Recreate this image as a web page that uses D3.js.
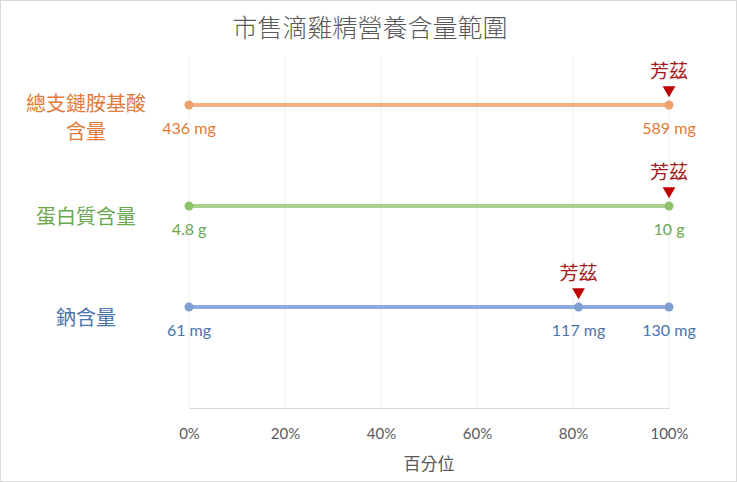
<!DOCTYPE html>
<html>
<head>
<meta charset="utf-8">
<script src="https://cdn.jsdelivr.net/npm/d3@7"></script>
<style>
  html, body { margin: 0; padding: 0; background: #fff; }
  svg { display: block; }
</style>
</head>
<body>
<div id="chart"></div>
<script>
// data
const nutrients = ["總支鏈胺基酸含量", "蛋白質含量", "鈉含量"];
const labelLines = [["總支鏈胺基酸", "含量"], ["蛋白質含量"], ["鈉含量"]];
const minValues = [436, 4.8, 61];
const maxValues = [589, 10, 130];
const brandValues = [589, 10, 117];
const units = ["mg", "g", "mg"];
const brandName = "芳茲";
const percentTicks = [0, 0.2, 0.4, 0.6, 0.8, 1];

const textColors = ["#e07b39", "#6aa84f", "#4a75ad"];
const lineColors = ["#f4b183", "#a9d18e", "#8eaadb"];
const dotColors = ["#f0a06a", "#8fc16c", "#7f9fd3"];

const W = 737, H = 482;
const margin = { top: 56, right: 68, bottom: 74, left: 189 };
const w = W - margin.left - margin.right;
const h = H - margin.top - margin.bottom;

const svg = d3.select("#chart").append("svg")
  .attr("width", W).attr("height", H);

svg.append("rect")
  .attr("x", 0.5).attr("y", 0.5)
  .attr("width", W - 1).attr("height", H - 1)
  .attr("fill", "#fff").attr("stroke", "#d9d9d9");

const g = svg.append("g").attr("transform", `translate(${margin.left},${margin.top})`);

const x = d3.scaleLinear().domain([0, 1]).range([0, w]);
const y = d3.scalePoint().domain(nutrients).range([49, 251]);

const cjk = "'Noto Sans CJK TC', 'Noto Sans CJK SC', sans-serif";
const latin = "Lato, 'Noto Sans', sans-serif";

// title
svg.append("text")
  .attr("x", 370).attr("y", 37)
  .attr("text-anchor", "middle")
  .attr("font-family", cjk)
  .attr("font-size", 25)
  .attr("font-weight", 300)
  .attr("fill", "#595959")
  .text("市售滴雞精營養含量範圍");

// grid
g.append("g")
  .selectAll("line")
  .data(percentTicks)
  .join("line")
    .attr("x1", d => x(d)).attr("x2", d => x(d))
    .attr("y1", 0).attr("y2", h)
    .attr("stroke", "#ececec");

// bottom axis
const xAxis = g.append("g")
  .attr("transform", `translate(0,${h})`)
  .call(d3.axisBottom(x).tickValues(percentTicks).tickFormat(d3.format(".0%")).tickSize(0).tickPadding(20));
xAxis.select(".domain").attr("stroke", "#d9d9d9");
xAxis.selectAll("text")
  .attr("font-family", latin)
  .attr("font-size", 15)
  .attr("fill", "#595959");

g.append("text")
  .attr("x", w / 2).attr("y", h + 62)
  .attr("text-anchor", "middle")
  .attr("font-family", cjk)
  .attr("font-size", 17)
  .attr("fill", "#595959")
  .text("百分位");

// rows
const rows = g.selectAll(".row")
  .data(nutrients.map((n, i) => ({
    name: n, lines: labelLines[i], min: minValues[i], max: maxValues[i],
    brand: brandValues[i], unit: units[i], i
  })))
  .join("g")
  .attr("class", "row")
  .attr("transform", d => `translate(0,${y(d.name)})`);

const pct = d => (d.brand - d.min) / (d.max - d.min);

rows.append("line")
  .attr("x1", x(0)).attr("x2", x(1))
  .attr("stroke", d => lineColors[d.i])
  .attr("stroke-width", 4)
  .attr("stroke-linecap", "round");

rows.selectAll(".dot")
  .data(d => {
    const pts = [{ p: 0, v: d.min }, { p: 1, v: d.max }];
    if (pct(d) > 0 && pct(d) < 1) pts.splice(1, 0, { p: pct(d), v: d.brand });
    return pts.map(p => ({ ...p, row: d }));
  })
  .join("g")
  .each(function(p) {
    const s = d3.select(this);
    s.append("circle")
      .attr("cx", x(p.p)).attr("r", 4.5)
      .attr("fill", dotColors[p.row.i]);
    s.append("text")
      .attr("x", x(p.p)).attr("y", 29)
      .attr("text-anchor", "middle")
      .attr("font-family", latin)
      .attr("font-size", 16)
      .attr("fill", textColors[p.row.i])
      .text(`${p.v} ${p.row.unit}`);
  });

// brand marker
rows.append("path")
  .attr("d", d3.symbol(d3.symbolTriangle, 70))
  .attr("transform", d => `translate(${x(pct(d))},-15) rotate(180)`)
  .attr("fill", "#c00000");

rows.append("text")
  .attr("x", d => x(pct(d))).attr("y", -27)
  .attr("text-anchor", "middle")
  .attr("font-family", cjk)
  .attr("font-size", 19)
  .attr("fill", "#a31a1a")
  .text(brandName);

// row labels
rows.each(function(d) {
  const t = d3.select(this).append("text")
    .attr("text-anchor", "middle")
    .attr("font-family", cjk)
    .attr("font-size", 20)
    .attr("fill", textColors[d.i]);
  const n = d.lines.length;
  d.lines.forEach((ln, k) => {
    t.append("tspan")
      .attr("x", -103)
      .attr("y", n === 1 ? 18 : 6 + k * 28)
      .text(ln);
  });
});
</script>
</body>
</html>
